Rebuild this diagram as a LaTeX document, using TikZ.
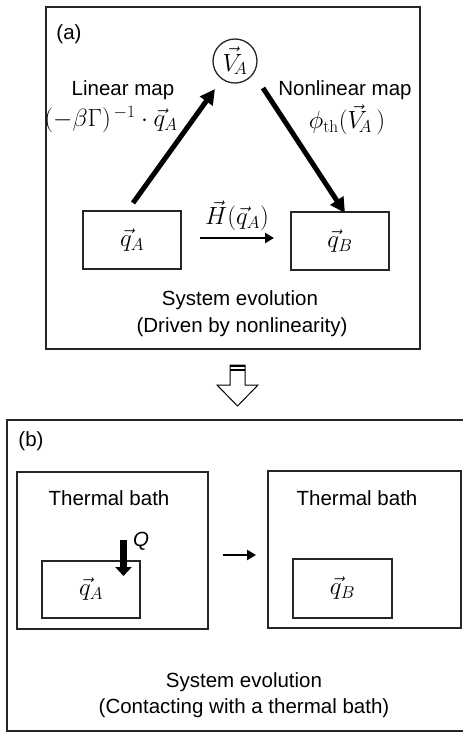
\documentclass[tikz,border=0pt]{standalone}
\usepackage[no-math]{fontspec}
\setmainfont{Liberation Sans}
\usetikzlibrary{arrows.meta}
\begin{document}
\begin{tikzpicture}[x=1pt,y=-1pt,
  every node/.style={inner sep=0pt, outer sep=0pt, text=black},
  font=\fontsize{20.5}{24}\selectfont,
  frame/.style={draw=black!85, line width=1.3pt, minimum width=#1},
  tall/.style={minimum height=#1},
  bigarrow/.style={line width=5pt, -{Triangle[length=15pt,width=15pt]}},
  midarrow/.style={line width=2.8pt, -{Triangle[length=9pt,width=10pt]}},
  qarrow/.style={line width=7pt, -{Triangle[length=9pt,width=16pt]}},
  lbl/.style={align=center},
  mth/.style={font=\fontsize{24}{28}\selectfont}]
\useasboundingbox (0,0) rectangle (463,732);

% ---------- panel (a) ----------
\node[frame=374, tall=342] (pa) at (233,178) {};
\node[lbl] (la) at (69,34) {(a)};
\node[draw=black!85, line width=1.3pt, circle, minimum size=44pt, mth] (va) at (235,61) {$\vec{V}_{\!A}$};
\node[frame=98, tall=58, mth] (qa) at (132,240) {$\vec{q}_A$};
\node[frame=98, tall=58, mth] (qb) at (340,241) {$\vec{q}_B$};

\node[lbl] (lin) at (123,90) {Linear map};
\node[lbl, mth] (linm) at (111,120) {$(-\beta\Gamma)^{\,-1}\cdot\vec{q}_A$};
\node[lbl] (nlin) at (345,90) {Nonlinear map};
\node[lbl, mth] (nlinm) at (347,120) {$\phi_{\mathrm{th}}\bigl(\vec{V}_{\!A}\,\bigr)$};
\node[lbl, mth] (hl) at (237,216) {$\vec{H}(\vec{q}_A)$};
\node[lbl] (se1) at (240,300) {System evolution};
\node[lbl] (se2) at (242,327) {(Driven by nonlinearity)};

\coordinate (a1s) at (133,203);
\coordinate (a1e) at (215,89);
\coordinate (a2s) at (263,88);
\coordinate (a2e) at (345,213);
\coordinate (hs) at (200,238);
\coordinate (he) at (274,238);
\draw[bigarrow] (a1s) -- (a1e);
\draw[bigarrow] (a2s) -- (a2e);
\draw[midarrow] (hs) -- (he);

% ---------- hollow arrow ----------
\draw[line width=1pt, line join=miter] (230,365) -- (245,365) -- (245,385) -- (258,385)
  -- (237.5,406) -- (217,385) -- (230,385) -- cycle;
\draw[line width=1.6pt] (230,365.8) -- (245,365.8);
\draw[line width=1.2pt] (230,370) -- (245,370);

% ---------- panel (b) ----------
\node[frame=457, tall=311] (pb) at (235.5,575.5) {};
\node[lbl] (lb) at (31,441) {(b)};
\node[frame=191, tall=157] (bl) at (112.5,550.5) {};
\node[frame=193, tall=157] (br) at (364.5,549.5) {};
\node[frame=98, tall=57, mth] (qa2) at (91,589.5) {$\vec{q}_A$};
\node[frame=99, tall=59, mth] (qb2) at (342.5,588.5) {$\vec{q}_B$};
\node[lbl] (tb1) at (109,498) {Thermal bath};
\node[lbl] (tb2) at (357,498) {Thermal bath};
\node[lbl] (ql) at (141,541) {\textit{Q}};
\node[lbl] (se3) at (244,682) {System evolution};
\node[lbl] (se4) at (244,708) {(Contacting with a thermal bath)};

\coordinate (qs) at (123.5,540);
\coordinate (qe) at (123.5,576);
\coordinate (ms) at (223,555);
\coordinate (me) at (256,555);
\draw[qarrow] (qs) -- (qe);
\draw[midarrow] (ms) -- (me);
\end{tikzpicture}
\end{document}
